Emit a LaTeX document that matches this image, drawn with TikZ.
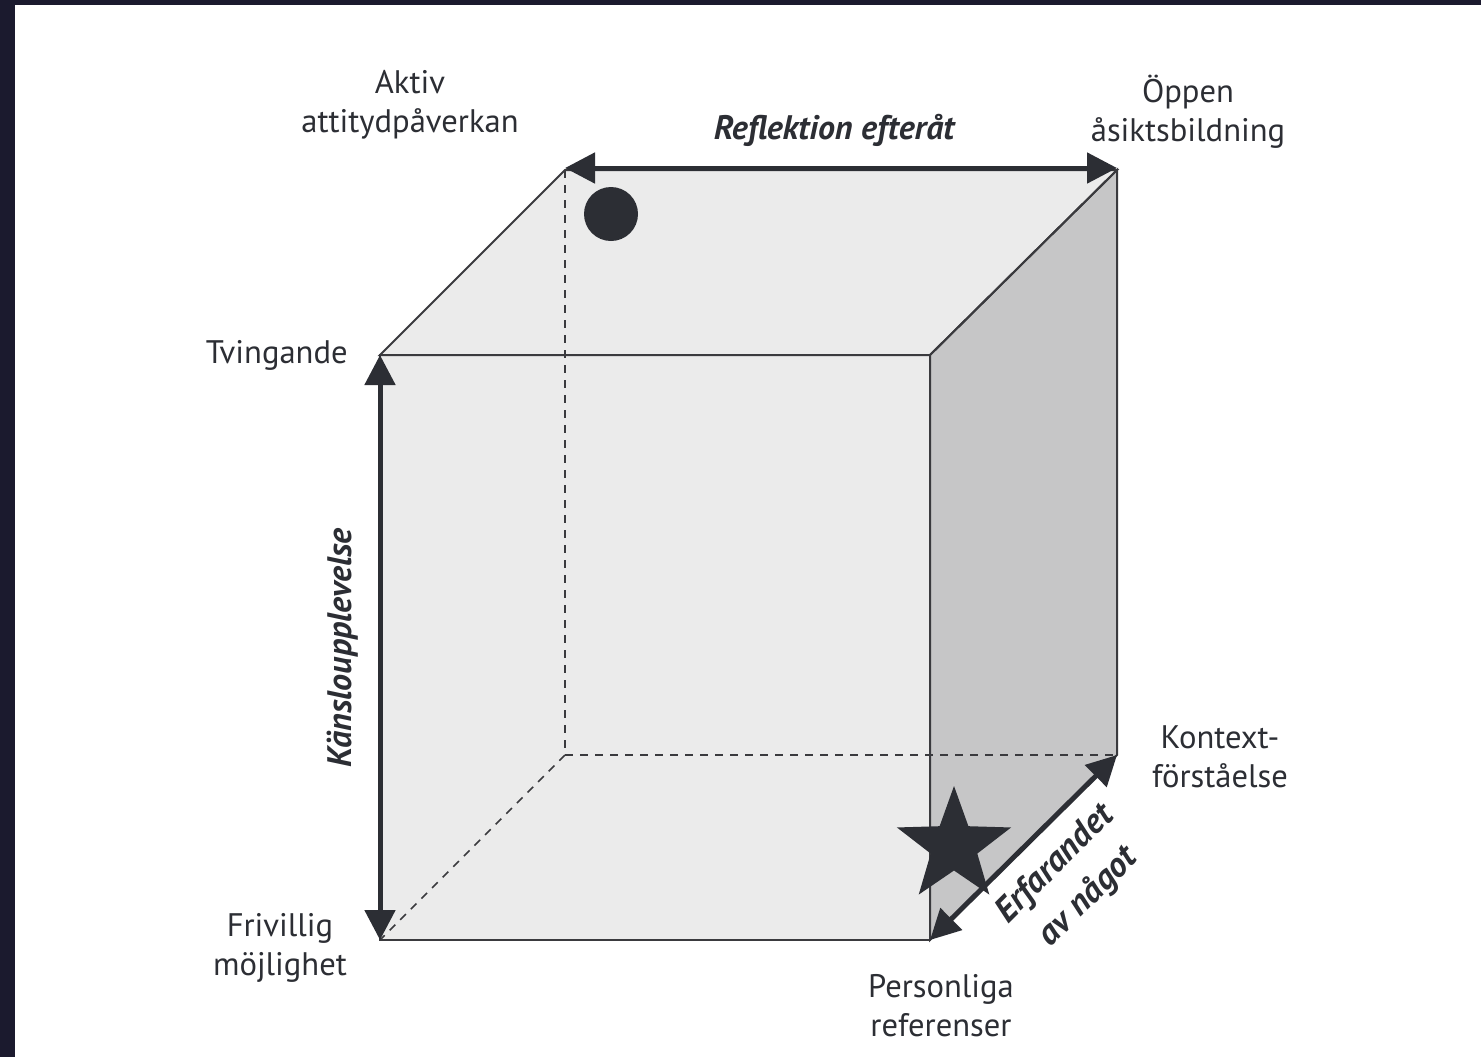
\documentclass[tikz,border=0pt]{standalone}
\usepackage{fontspec}
\setmainfont{PT Sans}
\usetikzlibrary{arrows.meta,shapes.geometric}
\definecolor{frame}{HTML}{1B1A2E}
\definecolor{ink}{HTML}{2C2E34}
\definecolor{facelight}{HTML}{EBEBEB}
\definecolor{facedark}{HTML}{C6C6C7}
\definecolor{edge}{HTML}{3A3A3E}
\tikzset{
  lbl/.style={text=ink,font=\fontsize{16.3}{19.5}\selectfont,align=center,inner sep=0pt},
  axislbl/.style={text=ink,font=\fontsize{17}{19}\selectfont\bfseries\itshape,align=center,inner sep=0pt},
  cubeedge/.style={draw=edge,line width=1pt},
  hidden/.style={draw=edge,line width=0.8pt,dash pattern=on 4pt off 3.5pt},
  axisarrow/.style={draw=ink,line width=2.5pt,{Triangle[length=15pt,width=15pt]}-{Triangle[length=15pt,width=15pt]}}
}
\begin{document}
\begin{tikzpicture}[x=0.5pt,y=-0.5pt]
\useasboundingbox (0,0) rectangle (1481,1057);
\fill[frame] (0,0) rectangle (1481,1057);
\fill[white] (15,5) rectangle (1481,1057);
% corners
\coordinate (FTL) at (380,355);
\coordinate (FTR) at (930,355);
\coordinate (FBL) at (380,940);
\coordinate (FBR) at (930,940);
\coordinate (BTL) at (565,170);
\coordinate (BTR) at (1117,170);
\coordinate (BBL) at (565,755);
\coordinate (BBR) at (1117,755);
% faces
\fill[facelight] (FTL) -- (BTL) -- (BTR) -- (FTR) -- cycle;
\fill[facelight] (FTL) rectangle (FBR);
\fill[facedark] (FTR) -- (BTR) -- (BBR) -- (FBR) -- cycle;
% hidden edges
\draw[hidden] (BTL) -- (BBL);
\draw[hidden] (BBL) -- (BBR);
\draw[hidden] (BBL) -- (FBL);
% visible edges
\draw[cubeedge] (FTL) -- (BTL) -- (BTR) -- (FTR) -- cycle;
\draw[cubeedge] (FTL) rectangle (FBR);
\draw[cubeedge] (FTR) -- (BTR) -- (BBR) -- (FBR) -- cycle;
% axis arrows
\coordinate (TA) at (565,168);
\coordinate (TB) at (1117,168);
\draw[axisarrow] (TA) -- (TB);
\draw[axisarrow] (FTL) -- (FBL);
\draw[axisarrow] (FBR) -- (BBR);
% markers
\node[circle,fill=ink,inner sep=0pt,minimum size=27pt] (dot) at (611,214) {};
\node[star,star points=5,star point ratio=2.45,fill=ink,inner sep=0pt,minimum size=60pt] (st) at (954,846) {};
% labels
\node[lbl] (aktiv) at (410,105) {Aktiv\\attitydpåverkan};
\node[lbl] (oppen) at (1188,112) {Öppen\\åsiktsbildning};
\node[axislbl] (refl) at (834,130) {Reflektion efteråt};
\node[lbl,anchor=east] (tving) at (348,355) {Tvingande};
\node[axislbl,rotate=90] (kansl) at (343,648) {Känsloupplevelse};
\node[lbl] (friv) at (280,948) {Frivillig\\möjlighet};
\node[lbl] (kont) at (1220,757) {Kontext-\\förståelse};
\node[lbl] (pers) at (941,1006) {Personliga\\referenser};
\node[axislbl,rotate=45,font=\fontsize{17.5}{23.5}\selectfont\bfseries\itshape] (erf) at (1072,881) {Erfarandet\\av något};
\end{tikzpicture}
\end{document}
